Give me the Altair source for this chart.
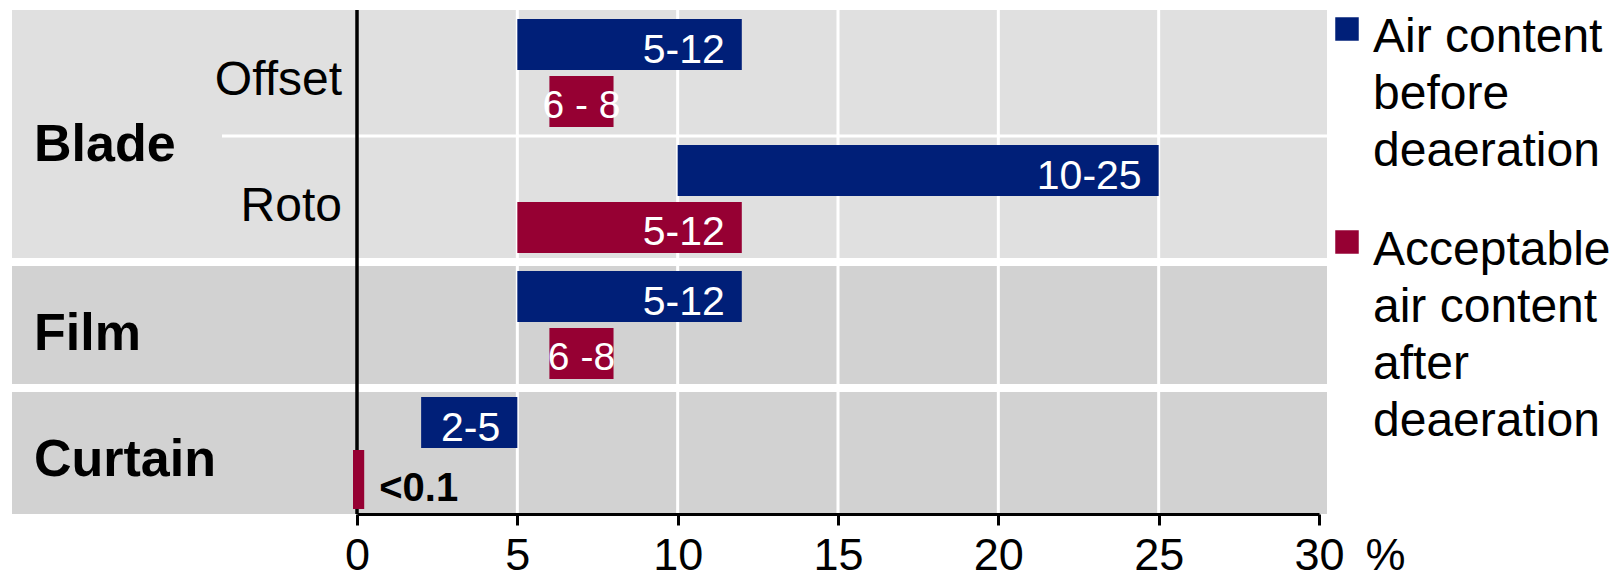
import altair as alt
import pandas as pd

FONT = "Liberation Sans"

# chart rows, top to bottom
row_ids = ["Blade Offset", "Blade Roto", "Film", "Curtain"]
row_groups = ["Blade", "Blade", "Film", "Curtain"]
row_methods = ["Offset", "Roto", "", ""]

# series
series = ["before", "after"]
series_legend = ["Air content\nbefore\ndeaeration", "Acceptable\nair content\nafter\ndeaeration"]
series_colors = ["#001f78", "#960033"]

# air content ranges in %
before_low = [5, 10, 5, 2]
before_high = [12, 25, 12, 5]
before_text = ["5-12", "10-25", "5-12", "2-5"]
after_low = [6, 5, 6, 0]
after_high = [8, 12, 8, 0.1]
after_text = ["6 - 8", "5-12", "6 -8", "<0.1"]

x_ticks = [0, 5, 10, 15, 20, 25, 30]

# ---------------------------------------------------------------- tables
rows_df = pd.DataFrame({"row": row_ids, "group": row_groups, "method": row_methods})

bar_records = []
for i, r in enumerate(row_ids):
    bar_records.append(dict(row=r, series=series[0], low=before_low[i],
                            high=before_high[i], text=before_text[i]))
    bar_records.append(dict(row=r, series=series[1], low=after_low[i],
                            high=after_high[i], text=after_text[i]))
bars_df = pd.DataFrame(bar_records)

group_names = list(dict.fromkeys(row_groups))
groups_df = pd.DataFrame({
    "group": group_names,
    "first": [row_ids[row_groups.index(g)] for g in group_names],
    "n": [row_groups.count(g) for g in group_names],
})

gap_df = pd.DataFrame({"row": [r for i, r in enumerate(row_ids)
                               if i > 0 and row_groups[i] != row_groups[i - 1]]})
inner_df = pd.DataFrame({"row": [r for i, r in enumerate(row_ids)
                                 if i > 0 and row_groups[i] == row_groups[i - 1]]})

ticks_df = pd.DataFrame({"tick": x_ticks})
legend_df = pd.DataFrame({"series": series, "caption": series_legend})

# ---------------------------------------------------------------- scales
W, H = 962, 504
BAND_LEFT, BAND_RIGHT = -345, 970

x_scale = alt.Scale(domain=[x_ticks[0], x_ticks[-1]], nice=False, zero=False)
x_axis = alt.Axis(
    values=x_ticks, grid=False,
    domain=True, domainColor="black", domainWidth=3,
    ticks=True, tickColor="black", tickWidth=3, tickSize=11,
    labelFont=FONT, labelFontSize=45, labelColor="black",
    labelPadding=44, labelBaseline="alphabetic", labelFlush=False, labelOverlap=False,
    title="%", titleFont=FONT, titleFontSize=45, titleFontWeight="normal",
    titleColor="black", titleX=1008, titleY=55, titleAlign="left",
    titleBaseline="alphabetic", zindex=1,
)
y_scale = alt.Scale(type="band", domain=row_ids, paddingInner=0, paddingOuter=0)
off_scale = alt.Scale(domain=series, paddingInner=0.105, paddingOuter=0.158)
color_scale = alt.Scale(domain=series, range=series_colors)


def xf(field):
    return alt.X(field, type="quantitative", scale=x_scale, axis=x_axis)


def yf(field="row", **kw):
    return alt.Y(field, type="nominal", scale=y_scale, axis=None, **kw)


def yo():
    return alt.YOffset("series:N", scale=off_scale)


# ---------------------------------------------------------------- layers
background = alt.Chart(rows_df).mark_rect().encode(
    y=yf(),
    x=alt.value(BAND_LEFT), x2=alt.value(BAND_RIGHT),
    fill=alt.condition(alt.datum.group == "Blade", alt.value("#e0e0e0"), alt.value("#d2d2d2")),
)

grid = alt.Chart(ticks_df).transform_filter(
    f"datum.tick > {x_ticks[0]} && datum.tick < {x_ticks[-1]}"
).mark_rule(color="white", strokeWidth=3).encode(x=xf("tick"))

group_gaps = alt.Chart(gap_df).mark_rule(color="white", strokeWidth=8).encode(
    y=yf(bandPosition=0), x=alt.value(BAND_LEFT), x2=alt.value(BAND_RIGHT)
)
inner_lines = alt.Chart(inner_df).mark_rule(color="white", strokeWidth=3).encode(
    y=yf(bandPosition=0), x=alt.value(-135), x2=alt.value(BAND_RIGHT)
)

zero_line = alt.Chart(ticks_df).transform_filter(
    f"datum.tick == {x_ticks[0]}"
).mark_rule(color="black", strokeWidth=3.5).encode(x=xf("tick"))

bars = alt.Chart(bars_df).mark_bar().encode(
    x=xf("low"), x2="high",
    y=yf(), yOffset=yo(),
    color=alt.Color("series:N", scale=color_scale, legend=None),
    stroke=alt.Stroke("series:N", scale=color_scale, legend=None),
    strokeWidth=alt.condition("datum.high - datum.low < 1", alt.value(8), alt.value(0)),
)

labels_base = alt.Chart(bars_df).transform_calculate(
    span="datum.high - datum.low", mid="(datum.low + datum.high) / 2"
)
label_right = labels_base.transform_filter("datum.span >= 3").mark_text(
    align="right", baseline="alphabetic", dx=-17, dy=18,
    font=FONT, fontSize=41, color="white",
).encode(x=xf("high"), y=yf(), yOffset=yo(), text="text:N")
label_mid = labels_base.transform_filter("datum.span >= 1 && datum.span < 3").mark_text(
    align="center", baseline="alphabetic", dy=17,
    font=FONT, fontSize=39, color="white",
).encode(x=xf("mid:Q"), y=yf(), yOffset=yo(), text="text:N")
label_out = labels_base.transform_filter("datum.span < 1").mark_text(
    align="left", baseline="alphabetic", dx=19, dy=22,
    font=FONT, fontSize=40, fontWeight="bold", color="black",
).encode(x=xf("high"), y=yf(), yOffset=yo(), text="text:N")

method_labels = alt.Chart(rows_df).transform_filter("datum.method != ''").mark_text(
    align="right", baseline="alphabetic", dy=22,
    font=FONT, fontSize=48, color="black",
).encode(x=alt.value(-15), y=yf(), text="method:N")

group_text = dict(align="left", baseline="alphabetic", dy=25, font=FONT,
                  fontSize=52, fontWeight="bold", color="black")
group_single = alt.Chart(groups_df).transform_filter("datum.n == 1").mark_text(
    **group_text).encode(x=alt.value(-323), y=yf("first", bandPosition=0.5), text="group:N")
group_double = alt.Chart(groups_df).transform_filter("datum.n == 2").mark_text(
    **group_text).encode(x=alt.value(-323), y=yf("first", bandPosition=1), text="group:N")

plot = alt.layer(
    background, grid, group_gaps, inner_lines, zero_line, bars,
    label_right, label_mid, label_out, method_labels, group_single, group_double,
)

# legend: coloured squares with multi-line captions to the right of the plot
leg_y = alt.Y("series:N", scale=alt.Scale(type="point", domain=series, range=[19, 232], padding=0), axis=None)
leg_symbols = alt.Chart(legend_df).mark_square(size=552, opacity=1).encode(
    x=alt.value(990), y=leg_y,
    color=alt.Color("series:N", scale=color_scale, legend=None),
)
leg_text = alt.Chart(legend_df).mark_text(
    align="left", baseline="alphabetic", dy=23, lineBreak="\n", lineHeight=57,
    font=FONT, fontSize=48, color="black",
).encode(x=alt.value(1016), y=leg_y, text="caption:N")
legend = alt.layer(leg_symbols, leg_text)

chart = alt.layer(plot, legend).resolve_scale(y="independent").properties(
    width=W, height=H,
    autosize=alt.AutoSizeParams(type="none"),
    padding={"left": 357, "top": 10, "right": 301, "bottom": 65},
    background="white",
).configure_view(stroke=None)

chart.save("out.html", embed_options={"renderer": "svg", "actions": False})
